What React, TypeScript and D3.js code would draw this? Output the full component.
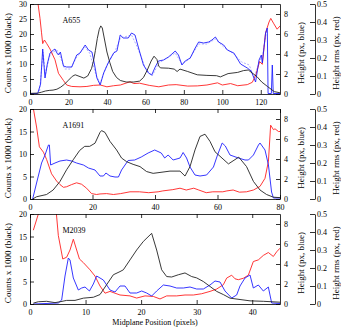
import React, { useEffect, useRef } from 'react';
import * as d3 from 'd3';

type Pt = [number, number];

// A655 (x in pixels, counts x1000 / height px / rms px)
const a655Black: Pt[] = [[0,0.2],[4,0.3],[6,0.6],[8,1],[10,1.2],[12,1.3],[14,1.6],[16,2.3],[18,3.3],[20,4.6],[22,5.9],[23.5,6.4],[26,5.8],[28,5.3],[30,6],[32,8.5],[33,11],[34,14.5],[35,18.5],[36,21.5],[36.8,22.7],[37.6,22],[38.5,19],[40,14],[41.5,10.5],[43,7.5],[45,5.5],[47,4.5],[50,4],[54,4],[57,4.3],[59,5.5],[61,8],[63,11],[64.5,12.6],[66,11.5],[67,9.2],[68,8.7],[72,8.6],[75,8.3],[76.5,7.5],[78,8.3],[82,7.5],[87,6.4],[92,6.2],[97,6.1],[99,5.7],[103,6.8],[108,7.2],[111,7.8],[113.5,8],[118,5.8],[120.5,4],[123.5,2.5],[127,0.8],[130,0.4]];
const a655Blue: Pt[] = [[0,0.05],[4,0.05],[5.5,1],[6.6,4.5],[7.8,1.6],[9,3],[10.4,4.1],[12.2,4.4],[13,4.5],[14,4.1],[14.8,3.9],[15.8,4.2],[17.4,2.8],[19,2.7],[21.7,2.7],[23,3.3],[24.3,3.9],[26,4.1],[27,4.4],[28.7,4.9],[30.4,4.4],[32.2,4.2],[33.5,3],[34.8,1.6],[36.5,0.9],[38.3,2.1],[40.9,3.2],[43.5,4.1],[45.2,4.3],[46.9,5.9],[48.5,5.6],[51.1,5.6],[52.8,6.1],[54.6,5.9],[56.3,4.7],[59,2.9],[61.6,2.1],[63.3,1.9],[65.1,2.7],[66.8,3.3],[69.4,3.4],[72,3.7],[73.8,4],[75.5,4.3],[77.2,3.9],[79,2.9],[80.7,3.3],[83.3,3.6],[85.9,4.6],[87.7,5.2],[90.3,5.1],[92.9,5.2],[94.6,5.4],[96.4,5.7],[98.1,5.2],[100.7,4.9],[102.6,4.4],[106,4.1],[109.5,3],[113,2.6],[115,2.3],[117.3,1.2],[119.1,3.4],[120.3,3.9],[120.8,3.1],[122.5,6.1],[123.4,6.6],[123.8,0.05],[125.5,0.05],[126,2.9],[126.5,0.05],[130,0.05]];
const a655BlueDash: Pt[] = [[5,0.3],[6.8,4.2],[8,1.9],[10,3.7],[12,4.2],[14,4.4],[16,3.6],[18,2.5],[21,2.5],[24,3.6],[28.5,4.7],[31,4.1],[34.5,1.8],[36.5,1.1],[40,2.9],[44,4.2],[47,5.6],[52.8,5.9],[56,4.6],[60,2.6],[63.5,1.8],[67,3.1],[73,3.8],[75.5,4.1],[79,3],[83,3.5],[87.7,5],[92,5],[96.4,5.5],[100.7,4.7],[106,4],[110,3.2],[114,2.9],[116.5,1.6],[119,3.1],[121,4],[123,6.3]];
const a655Red: Pt[] = [[3.5,0.6],[4.2,0.5],[5.2,0.42],[6,0.34],[6.6,0.28],[7.5,0.3],[8.7,0.28],[10.4,0.25],[13,0.19],[14.8,0.115],[17.4,0.075],[19.1,0.05],[21.7,0.042],[26,0.04],[29.6,0.042],[33,0.048],[36.5,0.05],[40,0.04],[43.5,0.046],[47,0.05],[52,0.068],[54,0.058],[57,0.06],[62,0.048],[67,0.04],[72,0.05],[76,0.052],[82,0.044],[87,0.045],[92,0.05],[97.5,0.062],[100,0.05],[104.3,0.058],[108,0.046],[113,0.052],[115.6,0.065],[117.4,0.105],[119.4,0.18],[120.8,0.165],[122.5,0.34],[124.3,0.4],[125.2,0.42],[126.8,0.39],[128.5,0.36],[130.2,0.38]];
const a655XTicks = [0, 20, 40, 60, 80, 100, 120];

// A1691
const a1691Black: Pt[] = [[0.85,0],[2.1,0.5],[5.3,1],[7.4,2],[9.6,3.9],[11.7,6.5],[13.8,8.7],[15.9,10.8],[17.5,11.7],[19.1,11.7],[20.8,12.4],[22.4,14.8],[22.9,15.2],[24,14.8],[25.6,12.8],[27.7,10.9],[29.3,9.1],[30.9,8.3],[33,7.7],[35.2,7.2],[37.3,6.1],[39.4,5.7],[41.6,5.9],[44.8,6.2],[48,6.2],[49.6,5.1],[51.2,7.2],[52.8,10.9],[54.4,13.9],[56,14.4],[57.6,12.8],[59.2,10.5],[60.8,9.5],[63.5,7.8],[66.8,9.3],[69.3,7.2],[71.5,3.9],[73.6,2],[75.7,1],[77.9,0.4],[80,0.3]];
const a1691Blue: Pt[] = [[0.85,0],[2.1,1.6],[3.7,3.6],[4.8,4.4],[5.9,5.4],[6.2,5.4],[6.6,3.4],[8,3.6],[9.6,3.8],[11.7,3.9],[13.3,3.8],[14.9,3.6],[17.1,3.4],[18.7,3.1],[20.8,2.9],[22.4,2.3],[23.5,2.3],[24.3,2.6],[25.6,2.3],[27.2,2.2],[28.3,2.2],[29.3,2.9],[31.4,3.85],[33.5,3.9],[35.6,4.2],[37.8,4.6],[39.9,4.9],[42,4.6],[43.1,4.1],[44.2,4.4],[45.8,3.9],[48,4.1],[49,4.65],[50.1,4.1],[51.2,3.2],[52.8,2.4],[54.4,2.3],[56.5,2.4],[58.7,3.2],[60,4.4],[61.5,5.6],[62.5,5.3],[64,4.4],[66.7,4.1],[68.8,3.9],[69.9,3.9],[71.5,4.4],[73.1,5.4],[73.6,5.6],[75.2,4.9],[76.3,3.4],[77.3,0.7],[77.9,0.1],[80,0.1]];
const a1691Red: Pt[] = [[0.9,0.55],[1.1,0.5],[2.1,0.4],[3,0.29],[4.3,0.26],[5.3,0.22],[6.9,0.14],[8.5,0.1],[9.6,0.08],[10.7,0.065],[11.7,0.068],[13.3,0.08],[14.9,0.09],[16.5,0.082],[18.1,0.06],[19.7,0.03],[21.3,0.025],[22.4,0.028],[24.5,0.03],[26.7,0.025],[29,0.03],[32,0.04],[35,0.04],[38,0.035],[41,0.04],[42.5,0.045],[45.7,0.052],[48,0.06],[50,0.05],[52.4,0.06],[54,0.05],[56.4,0.035],[58.5,0.04],[61.7,0.04],[63,0.045],[65,0.05],[67,0.038],[69.3,0.04],[71.5,0.05],[73.6,0.07],[75.2,0.115],[76.3,0.21],[77,0.41],[77.9,0.385],[78.4,0.39],[79.5,0.375],[80,0.375]];
const a1691XTicks = [0, 20, 40, 60, 80];

// M2039
const m2039Black: Pt[] = [[0.6,0.2],[1.5,0.5],[3,0.6],[4.5,0.3],[5.4,0.5],[6.6,0.8],[8.1,0.8],[9.6,1.3],[11.4,1.5],[12.6,2.1],[13.8,4.3],[15,6.5],[16.2,7.2],[16.8,7.6],[18,9.8],[19.2,12],[20.4,13.9],[21.9,15.7],[22.8,12],[23.7,7.6],[24.6,6.1],[25.5,6],[26.7,6.5],[27.9,6.9],[29.1,6.1],[30,5.8],[31.2,5],[32.4,3.9],[33.6,2.8],[34.8,2.1],[36,1.3],[37.8,1],[39.6,0.7],[42,0.6],[45,0.4]];
const m2039Blue: Pt[] = [[0.6,0],[5.1,0.1],[5.7,0.4],[6.3,2.8],[6.9,4.6],[7.2,4.4],[7.8,2.6],[8.7,1.4],[9.3,1.6],[9.9,1.7],[10.7,1.3],[11.4,2],[12,2.8],[13.2,2.4],[14.4,1.4],[15.3,1.2],[16.2,1.8],[17.1,1.8],[18,1.1],[19.2,1.1],[20.1,1.3],[21,1.1],[21.9,0.8],[22.8,1.3],[24,1.9],[25.2,1.8],[26.4,1.6],[27.6,1.6],[28.8,1.7],[30,1.5],[31.2,1.5],[32.4,1.9],[33.3,2.3],[34.2,2.2],[35.1,1.3],[36.3,0.6],[37.2,0.9],[37.8,1.8],[38.7,2.6],[39.6,2.9],[40.2,1.6],[41.1,1.9],[42,1.3],[42.9,1.7],[43.5,0.1],[45,0.05]];
const m2039Red: Pt[] = [[0.6,0.41],[1.7,0.52],[2.5,0.6],[4,0.6],[4.7,0.52],[5.1,0.38],[5.9,0.25],[6.6,0.26],[7.2,0.3],[7.8,0.36],[8.4,0.3],[8.9,0.25],[9.6,0.23],[10.8,0.19],[11.7,0.155],[12.6,0.1],[13.5,0.06],[14.4,0.07],[16.2,0.05],[18,0.045],[19.2,0.033],[20.7,0.045],[22.2,0.042],[23.4,0.028],[24.6,0.045],[26.4,0.045],[27.9,0.05],[29.4,0.05],[30.9,0.057],[32.4,0.07],[33.6,0.083],[34.8,0.107],[35.4,0.144],[36.3,0.16],[36.9,0.14],[37.5,0.135],[38.4,0.143],[39.3,0.16],[40.2,0.236],[41.1,0.245],[42,0.27],[42.9,0.286],[43.8,0.264],[44.4,0.29],[45,0.31]];
const m2039XTicks = [0, 10, 20, 30, 40];

const countTicks30 = [0, 5, 10, 15, 20, 25, 30];
const countTicks20 = [0, 5, 10, 15, 20];
const heightTicks = [0, 2, 4, 6, 8];
const rmsTicks = [0, 0.1, 0.2, 0.3, 0.4, 0.5];

const panels = [
  { name: 'A655', xMax: 130, xTicks: a655XTicks, countMax: 30, countTicks: countTicks30, black: a655Black, blue: a655Blue, blueDash: a655BlueDash, red: a655Red },
  { name: 'A1691', xMax: 80, xTicks: a1691XTicks, countMax: 20, countTicks: countTicks20, black: a1691Black, blue: a1691Blue, blueDash: null, red: a1691Red },
  { name: 'M2039', xMax: 45, xTicks: m2039XTicks, countMax: 20, countTicks: countTicks20, black: m2039Black, blue: m2039Blue, blueDash: null, red: m2039Red },
];

const W = 341;
const H = 332;
const FONT = '"Liberation Serif", "Times New Roman", serif';

export default function App() {
  const ref = useRef<SVGSVGElement>(null);

  useEffect(() => {
    const svg = d3.select(ref.current);
    svg.selectAll('*').remove();

    const left = 30, right = 280, rmsX = 315;
    const tops = [4, 109, 214];
    const ph = 90;

    const styleAxis = (g: any) => {
      g.attr('font-size', 8).attr('font-family', FONT);
      g.selectAll('path, line').attr('stroke', '#000').attr('stroke-width', 0.8);
      g.selectAll('text').attr('fill', '#000');
    };

    panels.forEach((p, i) => {
      const top = tops[i];
      const bottom = top + ph;
      const x = d3.scaleLinear().domain([0, p.xMax]).range([left, right]);
      const yc = d3.scaleLinear().domain([0, p.countMax]).range([bottom, top]);
      const yb = d3.scaleLinear().domain([0, 9]).range([bottom, top]);
      const yr = d3.scaleLinear().domain([0, 0.5]).range([bottom, top]);

      const clipId = 'clip' + i;
      svg.append('clipPath').attr('id', clipId)
        .append('rect').attr('x', left).attr('y', top).attr('width', right - left).attr('height', ph);

      const lines = svg.append('g').attr('clip-path', `url(#${clipId})`).attr('fill', 'none');
      const line = (ys: d3.ScaleLinear<number, number>) =>
        d3.line<Pt>().x(d => x(d[0])).y(d => ys(d[1]));

      if (p.blueDash) {
        lines.append('path').attr('d', line(yb)(p.blueDash)).attr('stroke', '#9a9aff')
          .attr('stroke-width', 0.8).attr('stroke-dasharray', '2,1.5');
      }
      lines.append('path').attr('d', line(yr)(p.red)).attr('stroke', '#ff2020').attr('stroke-width', 0.9);
      lines.append('path').attr('d', line(yb)(p.blue)).attr('stroke', '#2020ff').attr('stroke-width', 0.9);
      lines.append('path').attr('d', line(yc)(p.black)).attr('stroke', '#222').attr('stroke-width', 0.9);

      // axes
      svg.append('g').attr('transform', `translate(0,${bottom})`)
        .call(d3.axisBottom(x).tickValues(p.xTicks).tickFormat(d3.format('d')).tickSize(-4).tickSizeOuter(0).tickPadding(5))
        .call(styleAxis);
      svg.append('g').attr('transform', `translate(0,${top})`)
        .call(d3.axisTop(x).tickValues(p.xTicks).tickFormat(() => '').tickSize(-4).tickSizeOuter(0))
        .call(styleAxis);
      svg.append('g').attr('transform', `translate(${left},0)`)
        .call(d3.axisLeft(yc).tickValues(p.countTicks).tickFormat(d3.format('d')).tickSize(-4).tickSizeOuter(0).tickPadding(3))
        .call(styleAxis);
      svg.append('g').attr('transform', `translate(${right},0)`)
        .call(d3.axisRight(yb).tickValues(heightTicks).tickFormat(d3.format('d')).tickSize(-4).tickSizeOuter(0).tickPadding(4))
        .call(styleAxis);
      svg.append('g').attr('transform', `translate(${rmsX},0)`)
        .call(d3.axisRight(yr).tickValues(rmsTicks).tickFormat((d: any) => (d === 0 ? '0' : d3.format('.1f')(d))).tickSize(-5).tickSizeOuter(0).tickPadding(2))
        .call(styleAxis);

      const mid = (top + bottom) / 2 + 4;
      svg.append('text').attr('x', 62.5).attr('y', top + 19).text(p.name)
        .attr('font-size', 8).attr('font-family', FONT);
      svg.append('text').attr('transform', `translate(10.5,${mid}) rotate(-90)`)
        .attr('text-anchor', 'middle').attr('font-size', 9).attr('font-family', FONT)
        .text('Counts x 1000 (black)');
      svg.append('text').attr('transform', `translate(304,${mid}) rotate(-90)`)
        .attr('text-anchor', 'middle').attr('font-size', 9).attr('font-family', FONT)
        .text('Height (px, blue)');
      svg.append('text').attr('transform', `translate(338.5,${mid}) rotate(-90)`)
        .attr('text-anchor', 'middle').attr('font-size', 9).attr('font-family', FONT)
        .text('Height rms (px, red)');
    });

    svg.append('text').attr('x', 155).attr('y', 325).attr('text-anchor', 'middle')
      .attr('font-size', 8).attr('font-family', FONT).text('Midplane Position (pixels)');
  }, []);

  return (
    <svg ref={ref} width={W} height={H} style={{ position: 'absolute', left: 0, top: 0, background: '#fff' }} />
  );
}
